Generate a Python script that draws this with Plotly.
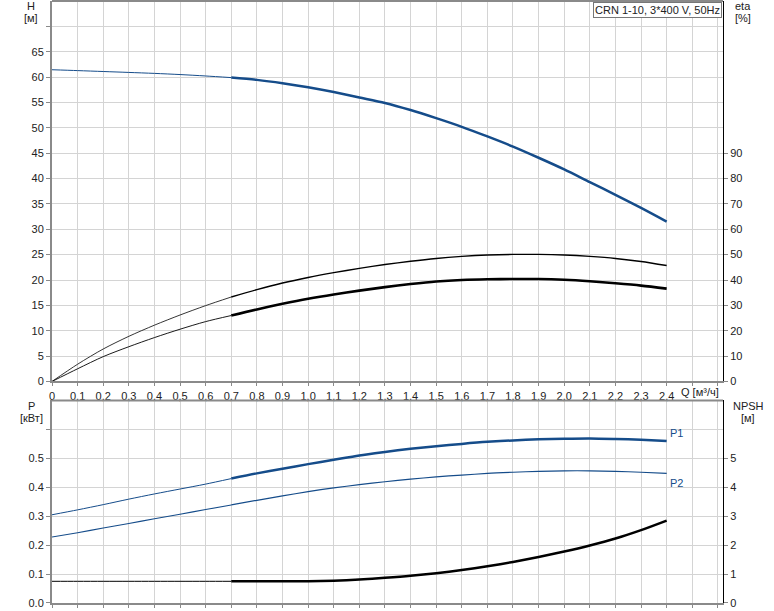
import plotly.graph_objects as go

# ---- data ----
Q = [0.0, 0.1, 0.2, 0.3, 0.4, 0.5, 0.6, 0.7, 0.8, 0.9, 1.0, 1.1, 1.2,
     1.3, 1.4, 1.5, 1.6, 1.7, 1.8, 1.9, 2.0, 2.1, 2.2, 2.3, 2.4]
H = [61.45, 61.28, 61.1, 60.92, 60.73, 60.5, 60.22, 59.9, 59.45, 58.8, 58.0, 57.05, 55.98,
     54.9, 53.5, 51.9, 50.2, 48.3, 46.3, 44.1, 41.8, 39.3, 36.8, 34.2, 31.5]
ETA_PUMP = [0, 6.8, 12.8, 17.8, 22.2, 26.2, 29.9, 33.3, 36.2, 38.8, 41.0, 42.9, 44.6,
            46.1, 47.4, 48.5, 49.3, 49.85, 50.1, 50.1, 49.85, 49.3, 48.5, 47.3, 45.7]
ETA_TOTAL = [0, 5.0, 9.8, 13.7, 17.3, 20.6, 23.6, 26.0, 28.4, 30.6, 32.6, 34.3, 35.8,
             37.2, 38.4, 39.4, 40.0, 40.3, 40.4, 40.4, 40.1, 39.5, 38.7, 37.8, 36.6]
P1 = [0.305, 0.322, 0.340, 0.359, 0.377, 0.394, 0.411, 0.430, 0.448, 0.464, 0.480, 0.495, 0.510,
      0.522, 0.533, 0.542, 0.550, 0.557, 0.562, 0.566, 0.568, 0.569, 0.567, 0.564, 0.560]
P2 = [0.228, 0.243, 0.259, 0.275, 0.291, 0.307, 0.323, 0.339, 0.355, 0.370, 0.385, 0.398, 0.409,
      0.419, 0.428, 0.436, 0.442, 0.448, 0.452, 0.455, 0.457, 0.457, 0.455, 0.452, 0.448]
NPSH = [0.75, 0.75, 0.75, 0.75, 0.75, 0.75, 0.75, 0.75, 0.75, 0.75, 0.75, 0.77, 0.81,
        0.87, 0.94, 1.03, 1.14, 1.27, 1.42, 1.59, 1.78, 1.99, 2.23, 2.52, 2.85]

Q_GRID = [round(i * 0.1, 1) for i in range(27)]
Q_LABELS = ["0"] + [f"{v:.1f}".replace(".", ",") for v in Q_GRID[1:25]] + ["", ""]
H_TICKS = list(range(0, 75, 5))
H_LABELS = [str(v) for v in H_TICKS[:-1]] + [""]
ETA_TICKS = list(range(0, 100, 10))
P_TICKS = [0.0, 0.1, 0.2, 0.3, 0.4, 0.5, 0.6]
P_LABELS = ["0.0", "0.1", "0.2", "0.3", "0.4", "0.5", ""]
NPSH_TICKS = [0, 1, 2, 3, 4, 5]

TITLE_BOX = "CRN 1-10, 3*400 V, 50Hz"

# ---- styles ----
BLUE = "#154c8a"
GRID = "#d4d4d4"
AXGRAY = "#8a8a8a"
FONT = dict(family="Liberation Sans, Arial, sans-serif", size=11, color="#222")
SPLIT = 7  # index of Q = 0.7 (thin before, thick after)

fig = go.Figure()

def seg(y, color, w_thin, w_thick, xa, ya):
    fig.add_trace(go.Scatter(x=Q[:SPLIT + 1], y=y[:SPLIT + 1], mode="lines",
                             line=dict(color=color, width=w_thin, shape="spline", smoothing=0.8),
                             xaxis=xa, yaxis=ya, hoverinfo="skip", showlegend=False))
    fig.add_trace(go.Scatter(x=Q[SPLIT:], y=y[SPLIT:], mode="lines",
                             line=dict(color=color, width=w_thick, shape="spline", smoothing=0.8),
                             xaxis=xa, yaxis=ya, showlegend=False))

seg(H, BLUE, 1.0, 2.5, "x", "y")
seg(ETA_PUMP, "#000", 0.8, 1.4, "x", "y2")
seg(ETA_TOTAL, "#000", 0.9, 2.6, "x", "y2")
seg(P1, BLUE, 1.0, 2.5, "x2", "y3")
seg(P2, BLUE, 1.1, 1.2, "x2", "y3")
seg(NPSH, "#000", 1.0, 2.5, "x2", "y4")

TOP_DOM = [0.368, 1.0]
BOT_DOM = [0.0, 0.3364]

xcommon = dict(range=[0, 2.62], tickvals=Q_GRID, showgrid=True, gridcolor=GRID, gridwidth=1,
               showline=True, linecolor=AXGRAY, linewidth=2, ticks="outside", ticklen=3,
               tickcolor=AXGRAY, zeroline=False, tickfont=FONT, fixedrange=True)

fig.update_layout(
    width=774, height=611,
    margin=dict(l=52, r=51, t=1, b=8, autoexpand=False),
    paper_bgcolor="white", plot_bgcolor="white",
    font=FONT, showlegend=False, hovermode=False,
    xaxis=dict(xcommon, domain=[0, 1], anchor="y", ticktext=Q_LABELS),
    xaxis2=dict(xcommon, domain=[0, 1], anchor="y3", showticklabels=False, matches="x"),
    yaxis=dict(domain=TOP_DOM, anchor="x", range=[0, 75], tickvals=H_TICKS, ticktext=H_LABELS,
               showgrid=True, gridcolor=GRID, showline=True, linecolor=AXGRAY, linewidth=2,
               ticks="outside", ticklen=4, tickcolor=AXGRAY, zeroline=False, tickfont=FONT),
    yaxis2=dict(overlaying="y", side="right", anchor="x", range=[0, 150], tickvals=ETA_TICKS,
                showgrid=False, showline=True, linecolor="#000", linewidth=1,
                ticks="outside", ticklen=4, tickcolor=AXGRAY, zeroline=False, tickfont=FONT),
    yaxis3=dict(domain=BOT_DOM, anchor="x2", range=[0, 0.7], tickvals=P_TICKS, ticktext=P_LABELS,
                showgrid=True, gridcolor=GRID, showline=True, linecolor=AXGRAY, linewidth=2,
                ticks="outside", ticklen=4, tickcolor=AXGRAY, zeroline=False, tickfont=FONT),
    yaxis4=dict(overlaying="y3", side="right", anchor="x2", range=[0, 7], tickvals=NPSH_TICKS,
                showgrid=False, showline=True, linecolor="#000", linewidth=1,
                ticks="outside", ticklen=4, tickcolor=AXGRAY, zeroline=False, tickfont=FONT),
)

# top borders of both panels
for yr in ["y domain", "y3 domain"]:
    fig.add_shape(type="line", xref="paper", yref=yr, x0=0, x1=1, y0=1, y1=1,
                  line=dict(color=AXGRAY, width=2))

def ann(text, x, y, xref="paper", yref="paper", color="#222", xanchor="center", **kw):
    fig.add_annotation(text=text, x=x, y=y, xref=xref, yref=yref, showarrow=False,
                       font=dict(FONT, color=color), xanchor=xanchor, yanchor="middle", **kw)

# pixel -> paper helpers
def px(xp):
    return (xp - 52) / (774 - 52 - 51)

def py(yp):
    return (611 - 8 - yp) / (611 - 1 - 8)

ann("H", px(31), py(6))
ann("[м]", px(31), py(18))
ann("eta", px(743), py(6))
ann("[%]", px(743), py(18))
ann("P", px(31), py(406))
ann("[кВт]", px(31), py(418))
ann("NPSH", px(748), py(406))
ann("[м]", px(748), py(418))
ann("Q [м³/ч]", px(700), py(392))
ann("P1", 2.44, P1[-1], xref="x2", yref="y3", color=BLUE, yshift=8)
ann("P2", 2.44, P2[-1], xref="x2", yref="y3", color=BLUE, yshift=-10)

fig.add_annotation(text=TITLE_BOX, x=px(722), y=py(2), xref="paper", yref="paper",
                   xanchor="right", yanchor="top", showarrow=False, font=FONT,
                   bgcolor="white", bordercolor="#777", borderwidth=1, borderpad=1)

fig.write_html("out.html", config={"displayModeBar": False, "staticPlot": True},
               post_script="document.body.style.margin='0px';document.body.style.padding='0px';")
